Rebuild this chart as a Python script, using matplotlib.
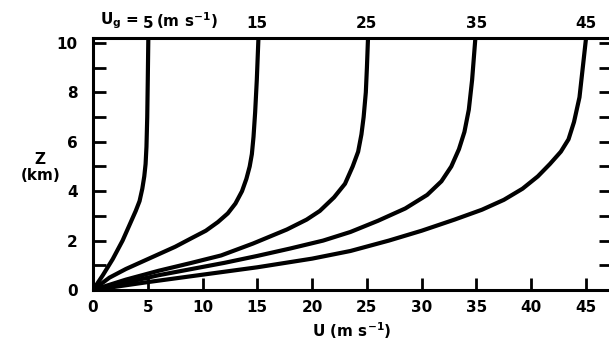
import matplotlib.pyplot as plt
import numpy as np

plt.rcParams['font.family'] = ['DejaVu Sans']
plt.rcParams['font.weight'] = 'bold'
plt.rcParams['axes.labelweight'] = 'bold'
plt.rcParams['mathtext.default'] = 'bf'

# geostrophic wind speeds (m/s), one profile each
u_g = [5, 15, 25, 35, 45]

# wind speed U (m/s) against height Z (km)
u_5 = [0, 0.9, 1.8, 2.7, 3.4, 3.9, 4.25, 4.5, 4.68, 4.8, 4.88, 4.95, 5.0, 5.05]
z_5 = [0, 0.6, 1.25, 2.0, 2.7, 3.2, 3.6, 4.1, 4.6, 5.1, 5.8, 7.0, 8.5, 10.2]

u_15 = [0, 1.5, 3.0, 4.5, 6.0, 7.5, 9.0, 10.3, 11.4, 12.3, 13.0, 13.6, 14.0, 14.3, 14.5, 14.65, 14.8, 14.95, 15.1]
z_15 = [0, 0.5, 0.85, 1.15, 1.45, 1.75, 2.1, 2.4, 2.75, 3.1, 3.5, 4.0, 4.5, 5.0, 5.5, 6.2, 7.2, 8.5, 10.2]

u_25 = [0, 3, 6, 9, 11.7, 14.6, 17.7, 19.5, 20.7, 22.0, 23.0, 23.7, 24.2, 24.5, 24.7, 24.9, 25.0, 25.1]
z_25 = [0, 0.42, 0.78, 1.1, 1.4, 1.88, 2.45, 2.85, 3.2, 3.75, 4.3, 5.0, 5.6, 6.3, 7.0, 8.0, 9.0, 10.2]

u_35 = [0, 3, 6, 9, 12, 15, 18, 21, 23.5, 26, 28.5, 30.5, 31.8, 32.7, 33.4, 33.9, 34.3, 34.6, 34.9]
z_35 = [0, 0.3, 0.6, 0.85, 1.1, 1.38, 1.68, 2.0, 2.35, 2.8, 3.3, 3.85, 4.4, 5.0, 5.7, 6.4, 7.3, 8.5, 10.2]

u_45 = [0, 5, 10, 15, 20, 23.5, 27, 30, 33, 35.5, 37.5, 39.2, 40.6, 41.7, 42.7, 43.4, 43.9, 44.4, 44.7, 45.0]
z_45 = [0, 0.32, 0.62, 0.92, 1.27, 1.58, 2.0, 2.4, 2.85, 3.25, 3.65, 4.1, 4.6, 5.1, 5.6, 6.1, 6.8, 7.8, 9.0, 10.2]

profiles = [(u_5, z_5), (u_15, z_15), (u_25, z_25), (u_35, z_35), (u_45, z_45)]

fig = plt.figure(figsize=(6.09, 3.45), dpi=100)
ax = fig.add_axes([0.1527, 0.1594, 0.851, 0.7304])

for u, z in profiles:
    ax.plot(u, z, color='black', lw=3, solid_capstyle='round', solid_joinstyle='round')

ax.set_xlim(0, 47.3)
ax.set_ylim(0, 10.2)

for s in ax.spines.values():
    s.set_linewidth(2.2)

ax.set_xticks(np.arange(0, 50, 5))
ax.set_yticks(np.arange(0, 11, 2))
ax.set_yticks(np.arange(1, 11, 2), minor=True)
ax.tick_params(axis='x', direction='in', length=9, width=2, pad=7, labelsize=11)
ax.tick_params(axis='y', which='both', direction='in', length=9, width=2,
               right=True, pad=11, labelsize=11)

ax.set_xlabel('U (m s$^{-1}$)', fontsize=11, labelpad=4)
fig.text(0.066, 0.515, 'Z\n(km)', ha='center', va='center', fontsize=11, linespacing=1.1)

# geostrophic speed labels along the top
for ug in u_g:
    ax.annotate(str(ug), xy=(ug, 1), xycoords=('data', 'axes fraction'),
                xytext=(0, 5), textcoords='offset points',
                ha='center', va='bottom', fontsize=11)
ax.annotate('$U_g$ =', xy=(u_g[0], 1), xycoords=('data', 'axes fraction'),
            xytext=(-6, 5), textcoords='offset points',
            ha='right', va='bottom', fontsize=11)
ax.annotate('(m s$^{-1}$)', xy=(u_g[0], 1), xycoords=('data', 'axes fraction'),
            xytext=(6, 5), textcoords='offset points',
            ha='left', va='bottom', fontsize=11)

fig.savefig('out.png', dpi=100)
